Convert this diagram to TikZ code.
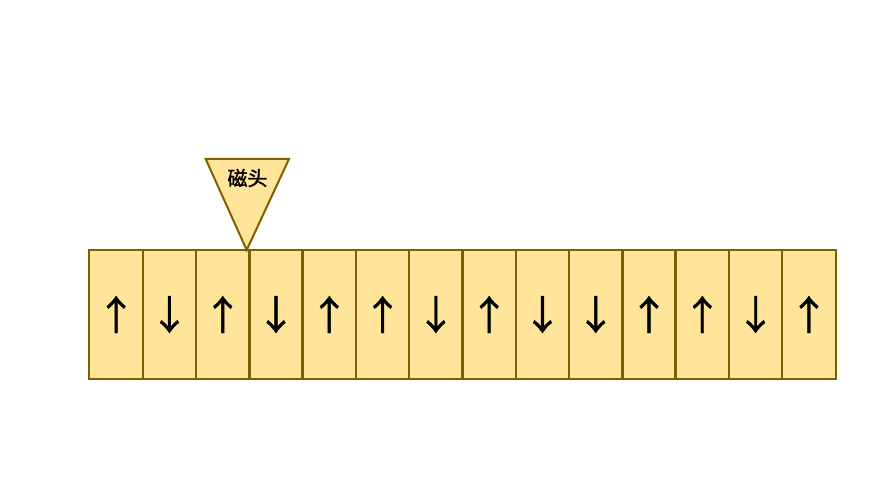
\documentclass[tikz,border=0pt]{standalone}
\usepackage{fontspec}
\newfontfamily\cjk[FakeBold=1.5]{Noto Sans CJK SC}
\newfontfamily\arrowfont[FakeBold=1]{Noto Sans CJK SC}
\definecolor{tapefill}{HTML}{FFE599}
\definecolor{tapeline}{HTML}{7F6000}
\tikzset{
  cell/.style={fill=tapefill, minimum width=53.3pt, minimum height=129pt, inner sep=0pt,
    font=\arrowfont\fontsize{40}{40}\selectfont},
  cellline/.style={draw=tapeline, line width=2pt},
  headtri/.style={draw=tapeline, fill=tapefill, line width=2pt, line join=miter},
}

\begin{document}
\begin{tikzpicture}[x=1pt, y=-1pt]
			%%%%% START %%%%%
			\useasboundingbox[fill=white] (0, 0) rectangle (889, 500);
			
			% tape cells
			\foreach \d [count=\i] in {↑,↓,↑,↓,↑,↑,↓,↑,↓,↓,↑,↑,↓,↑}
				\node[cell] (c\i) at ({89.5 + 53.29*(\i - 0.5)}, 314.5) {\d};
			\foreach \i in {1,...,14}
				\draw[cellline] (c\i.north west) rectangle (c\i.south east);
			
			% read head
			\coordinate (tip) at (246.7, 250);
			\draw[headtri] (205.7, 159) -- (289, 159) -- (tip) -- cycle;
			\node[font=\cjk\fontsize{20}{20}\selectfont] (head) at (247.5, 178) {磁头};
			
			%%%%% END %%%%%
		\end{tikzpicture}
\end{document}
